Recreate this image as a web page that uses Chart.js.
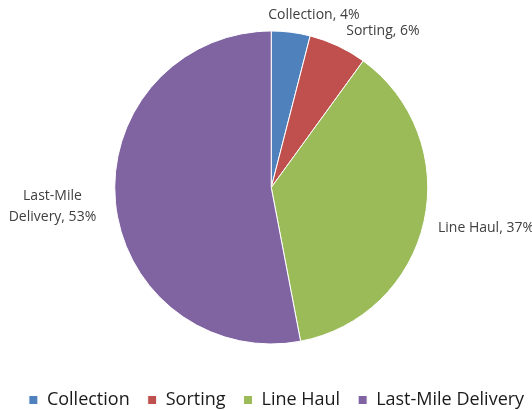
<!DOCTYPE html>
<html>
<head>
<meta charset="utf-8">
<script src="https://cdn.jsdelivr.net/npm/chart.js@4.4.1/dist/chart.umd.min.js"></script>
<style>
  html, body { margin: 0; padding: 0; background: #fff; }
  #wrap { width: 532px; height: 410px; }
</style>
</head>
<body>
<div id="wrap"><canvas id="app" width="532" height="410"></canvas></div>
<script>
const categories = ['Collection', 'Sorting', 'Line Haul', 'Last-Mile Delivery'];
const shares = [4, 6, 37, 53];
const colors = ['#4F81BD', '#C0504D', '#9BBB59', '#8064A2'];
// data label text, split into lines like the original
const labelLines = [['Collection, 4%'], ['Sorting, 6%'], ['Line Haul, 37%'], ['Last-Mile', 'Delivery, 53%']];
// nudge from the slice's outer edge midpoint
const labelShift = [[23, -17], [45, -15], [14, 6], [-63, 4]];
const labelAlign = ['center', 'center', 'left', 'center'];

const FONT = '"Open Sans", sans-serif';

// draws Excel-style data labels outside the pie
const outsideLabels = {
  id: 'outsideLabels',
  afterDatasetsDraw(chart) {
    const { ctx } = chart;
    const meta = chart.getDatasetMeta(0);
    ctx.save();
    ctx.font = '14px ' + FONT;
    ctx.fillStyle = '#404040';
    ctx.textBaseline = 'middle';
    meta.data.forEach((arc, i) => {
      const mid = (arc.startAngle + arc.endAngle) / 2;
      const ex = arc.x + Math.cos(mid) * arc.outerRadius;
      const ey = arc.y + Math.sin(mid) * arc.outerRadius;
      const lines = labelLines[i];
      const x = ex + labelShift[i][0];
      const y0 = ey + labelShift[i][1] - (lines.length - 1) * 10;
      ctx.textAlign = labelAlign[i];
      lines.forEach((t, j) => ctx.fillText(t, x, y0 + j * 21));
    });
    ctx.restore();
  }
};

new Chart(document.getElementById('app'), {
  type: 'pie',
  data: {
    labels: categories,
    datasets: [{
      data: shares,
      backgroundColor: colors,
      borderColor: '#ffffff',
      borderWidth: 1,
      radius: 156.5
    }]
  },
  options: {
    responsive: false,
    animation: false,
    maintainAspectRatio: false,
    layout: { padding: { top: 2, left: 10.5, right: -10.5, bottom: -9 } },
    plugins: {
      tooltip: { enabled: false },
      legend: {
        position: 'bottom',
        labels: {
          boxWidth: 9,
          boxHeight: 9,
          padding: 18,
          color: '#1a1a1a',
          font: { family: FONT, size: 18 }
        }
      }
    }
  },
  plugins: [outsideLabels]
});
</script>
</body>
</html>
